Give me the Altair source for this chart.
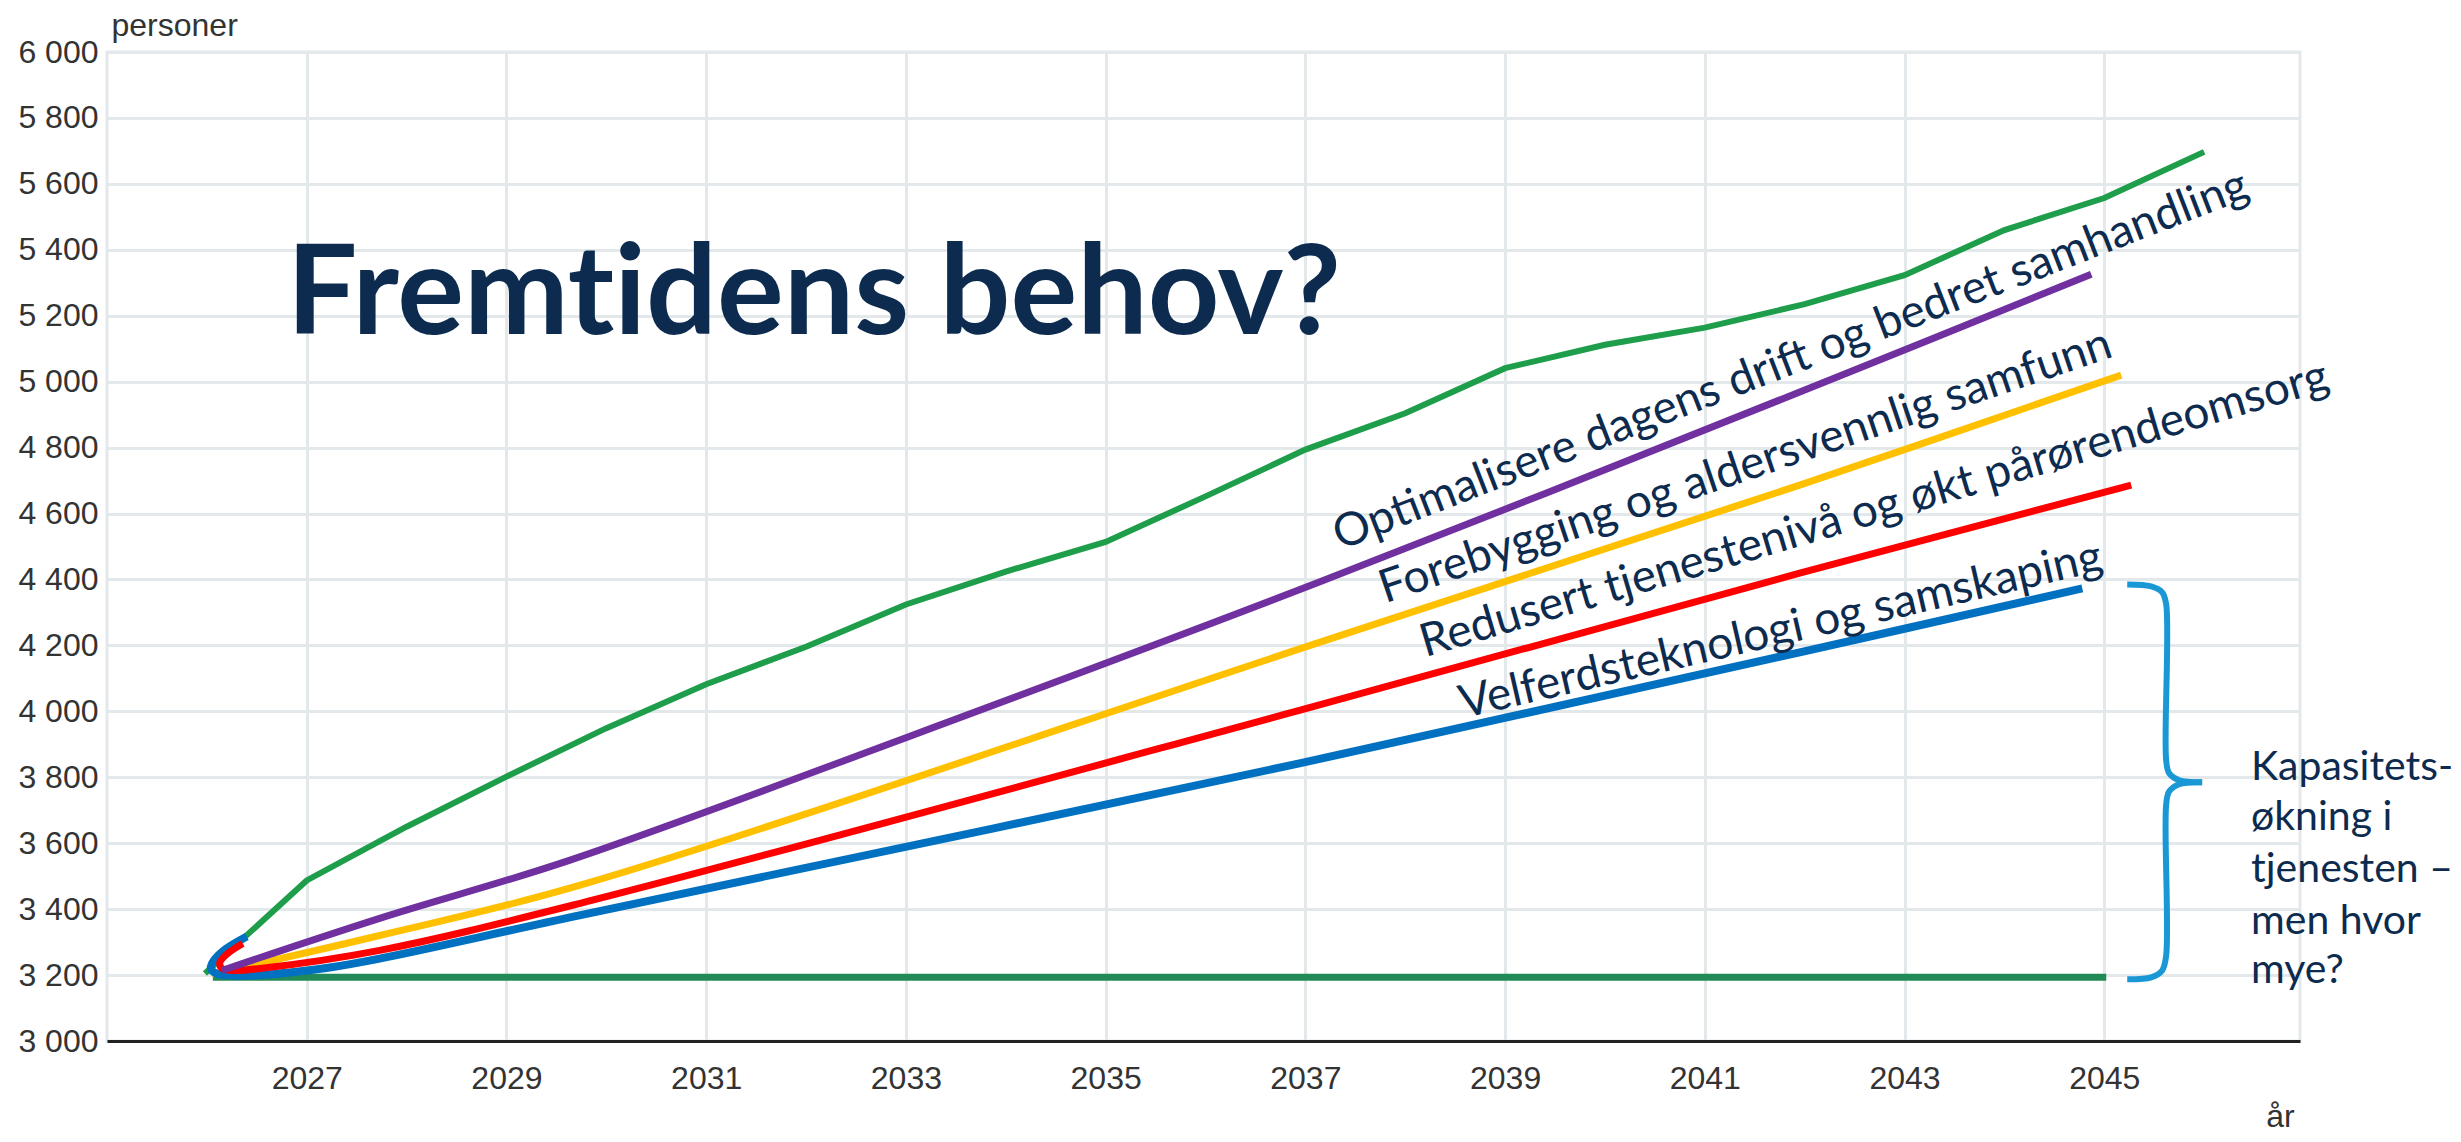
import altair as alt
import pandas as pd

# ---------------- data ----------------
# Projected need (green)
proj_years = [2025.98, 2027, 2028, 2029, 2030, 2031, 2032, 2033, 2034, 2035, 2036,
              2037, 2038, 2039, 2040, 2041, 2042, 2043, 2044, 2045, 2046]
proj_values = [3205, 3487, 3650, 3802, 3949, 4082, 4196, 4324, 4424, 4514, 4652,
               4794, 4904, 5041, 5112, 5164, 5235, 5323, 5460, 5557, 5697]

# Today's capacity (flat dark green)
flat_years = [2026.06, 2045.02]
flat_values = [3193, 3193]

# Scenario lines
purple_years = [2026.15, 2027.73, 2029.63, 2033.0, 2037.14, 2042.45, 2044.87]
purple_values = [3214, 3372, 3548, 3920, 4392, 5029, 5326]

yellow_years = [2026.05, 2027.73, 2029.73, 2037.14, 2041.95, 2045.17]
yellow_values = [3203, 3320, 3472, 4209, 4686, 5020]

red_years = [2026.36, 2026.21, 2026.13, 2026.15, 2026.25, 2026.53, 2027.73, 2029.73,
             2036.94, 2041.95, 2045.27]
red_values = [3296, 3266, 3238, 3220, 3214, 3220, 3275, 3417, 4003, 4419, 4686]

blue_years = [2026.40, 2026.19, 2026.07, 2026.04, 2026.09, 2026.25, 2026.48, 2026.83,
              2027.23, 2027.73, 2029.73, 2036.94, 2041.95, 2044.78]
blue_values = [3317, 3279, 3244, 3220, 3205, 3199, 3199, 3208, 3223, 3250, 3381,
               3842, 4179, 4373]

# Curly bracket (upper and lower half)
brace_up_years = [2045.23, 2045.47, 2045.58, 2045.62, 2045.62, 2045.65, 2045.75, 2045.98]
brace_up_values = [4385, 4379, 4361, 4325, 3851, 3812, 3791, 3785]
brace_lo_years = [2045.98, 2045.75, 2045.65, 2045.62, 2045.62, 2045.58, 2045.47, 2045.23]
brace_lo_values = [3785, 3779, 3757, 3718, 3260, 3214, 3193, 3187]

# Axis ticks
x_ticks = [2027, 2029, 2031, 2033, 2035, 2037, 2039, 2041, 2043, 2045]
y_ticks = list(range(3000, 6001, 200))

# Annotations (a zero-width non-joiner keeps Lato from fusing "ti")
title_text = ["Fremt\u200cidens behov?"]
title_x = [2026.80]
title_y = [5144]

label_texts = ["Optimalisere dagens drift og bedret samhandling",
               "Forebygging og aldersvennlig samfunn",
               "Redusert tjenestenivå og økt pårørendeomsorg",
               "Velferdsteknologi og samskaping"]
label_x = [2037.35, 2037.80, 2038.20, 2038.58]
label_y = [4489, 4328, 4164, 3979]
label_angles = [338.8, 341.3, 343.5, 347.0]

side_lines = ["Kapasitets-", "økning i", "tjenesten –", "men hvor", "mye?"]
side_x = [2046.47] * 5
side_y = [3791, 3639, 3481, 3326, 3175]

NAVY = "#0d2b4f"
TICK = "#333333"
GRID = "#e3e8ea"

# ---------------- scales ----------------
X = alt.X("x:Q",
          scale=alt.Scale(domain=[2025, 2046.96], nice=False, zero=False),
          axis=alt.Axis(values=x_ticks, format="d", ticks=False, labelPadding=22,
                        labelFont="Liberation Sans", labelFontSize=32, labelColor=TICK,
                        domainColor="#222222", domainWidth=3,
                        grid=True, gridColor=GRID, gridWidth=3,
                        title="år", titleFont="Liberation Sans", titleFontSize=32,
                        titleFontWeight="normal", titleColor=TICK,
                        titleX=2173, titleY=85, titleAlign="center",
                        titleBaseline="alphabetic", labelFlush=False))
Y = alt.Y("y:Q",
          scale=alt.Scale(domain=[3000, 6000], nice=False, zero=False),
          axis=alt.Axis(values=y_ticks, ticks=False, labelPadding=9, domain=False,
                        labelExpr="replace(format(datum.value, ','), ',', ' ')",
                        labelFont="Liberation Sans", labelFontSize=32, labelColor=TICK,
                        grid=True, gridColor=GRID, gridWidth=3,
                        title="personer", titleFont="Liberation Sans", titleFontSize=32,
                        titleFontWeight="normal", titleColor=TICK, titleAngle=0,
                        titleX=4, titleY=-17, titleAlign="left",
                        titleBaseline="alphabetic"))


def series(xs, ys):
    return pd.DataFrame({"x": xs, "y": ys, "o": list(range(len(xs)))})


def line(xs, ys, color, width, interp="linear"):
    return alt.Chart(series(xs, ys)).mark_line(
        color=color, strokeWidth=width, strokeCap="butt", interpolate=interp,
        clip=False
    ).encode(x=X, y=Y, order="o:Q")


layers = [
    line(proj_years, proj_values, "#1e9e4a", 6),
    line(flat_years, flat_values, "#228a57", 7),
    line(yellow_years, yellow_values, "#ffc000", 7, "catmull-rom"),
    line(blue_years, blue_values, "#0070c0", 8, "catmull-rom"),
    line(red_years, red_values, "#ff0000", 7, "catmull-rom"),
    line(purple_years, purple_values, "#7030a0", 7, "catmull-rom"),
    line(brace_up_years, brace_up_values, "#1a98d5", 6, "catmull-rom"),
    line(brace_lo_years, brace_lo_values, "#1a98d5", 6, "catmull-rom"),
]

title_df = pd.DataFrame({"x": title_x, "y": title_y, "t": title_text})
layers.append(alt.Chart(title_df).mark_text(
    font="Lato", fontSize=125, fontWeight="bold", color=NAVY,
    align="left", baseline="alphabetic", clip=False
).encode(x=X, y=Y, text="t:N"))

for t, xx, yy, ang in zip(label_texts, label_x, label_y, label_angles):
    df = pd.DataFrame({"x": [xx], "y": [yy], "t": [t]})
    layers.append(alt.Chart(df).mark_text(
        font="Lato", fontSize=46, color=NAVY, angle=ang,
        align="left", baseline="alphabetic", clip=False
    ).encode(x=X, y=Y, text="t:N"))

side_df = pd.DataFrame({"x": side_x, "y": side_y, "t": side_lines})
layers.append(alt.Chart(side_df).mark_text(
    font="Lato", fontSize=41, color=NAVY,
    align="left", baseline="alphabetic", clip=False
).encode(x=X, y=Y, text="t:N"))

chart = alt.layer(*layers).properties(
    width=2193, height=989,
    autosize=alt.AutoSizeParams(type="none"),
    padding={"left": 99, "top": 44, "right": 153, "bottom": 92},
    background="white",
).configure_view(stroke=GRID, strokeWidth=3)

chart.save("out.html", embed_options={"renderer": "svg", "actions": False})
